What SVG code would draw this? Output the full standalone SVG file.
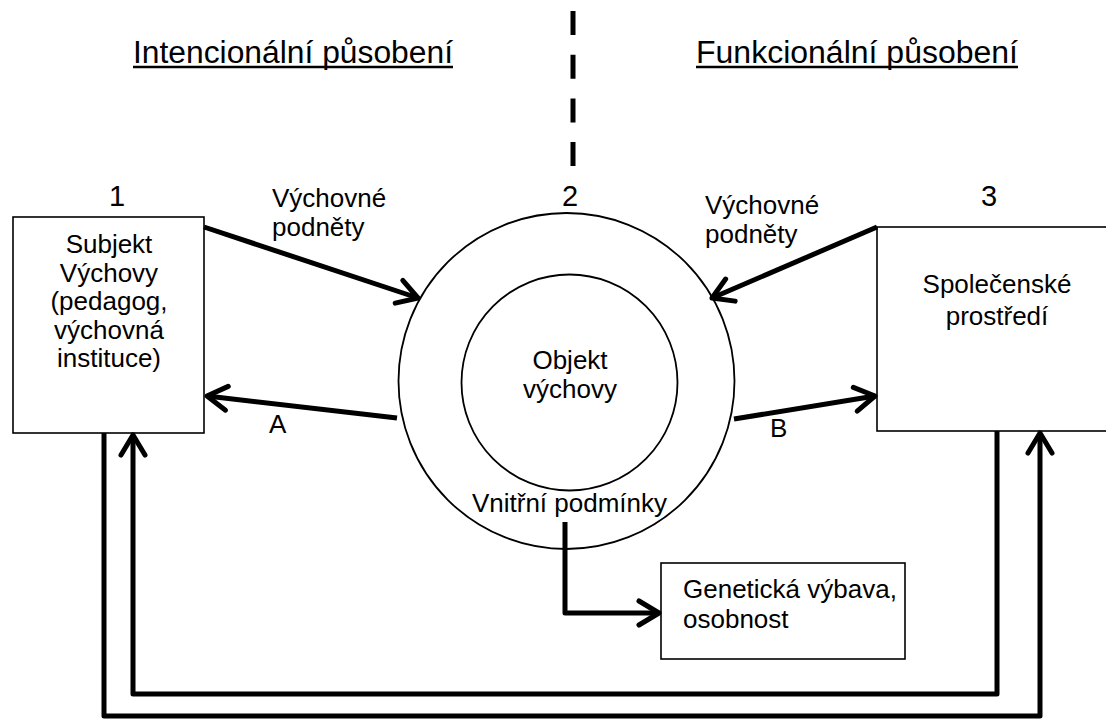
<svg xmlns="http://www.w3.org/2000/svg" width="1106" height="721" viewBox="0 0 1106 721">
<style>
  text { font-family: "Liberation Sans", Arial, sans-serif; font-size: 26px; fill: #000; }
  .num { font-size: 29px; }
  .title { font-size: 31px; }
  .box { fill: #fff; stroke: #000; stroke-width: 1.6; }
  .ring { fill: none; stroke: #000; stroke-width: 1.8; }
  .conn { fill: none; stroke: #000; stroke-width: 5; stroke-linejoin: round; }
  .c { text-anchor: middle; }
</style>
<defs>
  <marker id="arr" markerUnits="userSpaceOnUse" viewBox="-30 -20 40 40" markerWidth="40" markerHeight="40" refX="0" refY="0" orient="auto" overflow="visible">
    <path d="M -20 -12 L 0 0 L -20 12" fill="none" stroke="#000" stroke-width="5" stroke-linecap="round" stroke-linejoin="round"/>
  </marker>
</defs>
<rect width="1106" height="721" fill="#fff"/>

<g id="titles">
  <text class="title" x="133" y="63" textLength="320" lengthAdjust="spacingAndGlyphs">Intencionální působení</text>
  <line x1="133" y1="67" x2="453" y2="67" stroke="#000" stroke-width="2.5"/>
  <text class="title" x="696" y="63" textLength="322" lengthAdjust="spacingAndGlyphs">Funkcionální působení</text>
  <line x1="696" y1="67" x2="1018" y2="67" stroke="#000" stroke-width="2.5"/>
  <line x1="573" y1="11" x2="573" y2="166" stroke="#000" stroke-width="5" stroke-dasharray="24 19.7"/>
</g>

<g id="node1">
  <rect class="box" x="13" y="217" width="191" height="216"/>
  <text class="c num" x="117" y="206">1</text>
  <text class="c" x="109" y="253">Subjekt</text>
  <text class="c" x="109" y="281.5">Výchovy</text>
  <text class="c" x="109" y="310">(pedagog,</text>
  <text class="c" x="109" y="338.5">výchovná</text>
  <text class="c" x="109" y="367">instituce)</text>
</g>

<g id="node2">
  <circle class="ring" cx="566.5" cy="381" r="168"/>
  <circle class="ring" cx="569.5" cy="382.5" r="108"/>
  <text class="c num" x="570" y="206">2</text>
  <text class="c" x="570" y="369">Objekt</text>
  <text class="c" x="570" y="398">výchovy</text>
  <text class="c" x="569.5" y="512">Vnitřní podmínky</text>
</g>

<g id="node3">
  <rect class="box" x="877" y="227" width="240" height="204"/>
  <text class="c num" x="989" y="206">3</text>
  <text class="c" x="997" y="293">Společenské</text>
  <text class="c" x="997" y="325">prostředí</text>
</g>

<g id="node4">
  <rect class="box" x="661" y="563" width="244" height="96"/>
  <text x="683" y="598">Genetická výbava,</text>
  <text x="683" y="628">osobnost</text>
</g>

<g id="labels">
  <text x="272" y="207">Výchovné</text>
  <text x="272" y="236">podněty</text>
  <text x="705" y="214">Výchovné</text>
  <text x="705" y="243">podněty</text>
  <text x="269" y="433">A</text>
  <text x="770" y="437">B</text>
</g>

<g id="connectors">
  <line class="conn" x1="204" y1="227" x2="418" y2="298" marker-end="url(#arr)"/>
  <line class="conn" x1="877" y1="227" x2="712" y2="298" marker-end="url(#arr)"/>
  <line class="conn" x1="397" y1="418" x2="207" y2="396" marker-end="url(#arr)"/>
  <line class="conn" x1="734" y1="419" x2="875" y2="396" marker-end="url(#arr)"/>
  <path class="conn" d="M 565 522 L 565 613 L 659 613" marker-end="url(#arr)"/>
  <path class="conn" d="M 104 433 L 104 716 L 1040 716 L 1040 433" marker-end="url(#arr)"/>
  <path class="conn" d="M 997 431 L 997 694 L 133 694 L 133 435" marker-end="url(#arr)"/>
</g>
</svg>
